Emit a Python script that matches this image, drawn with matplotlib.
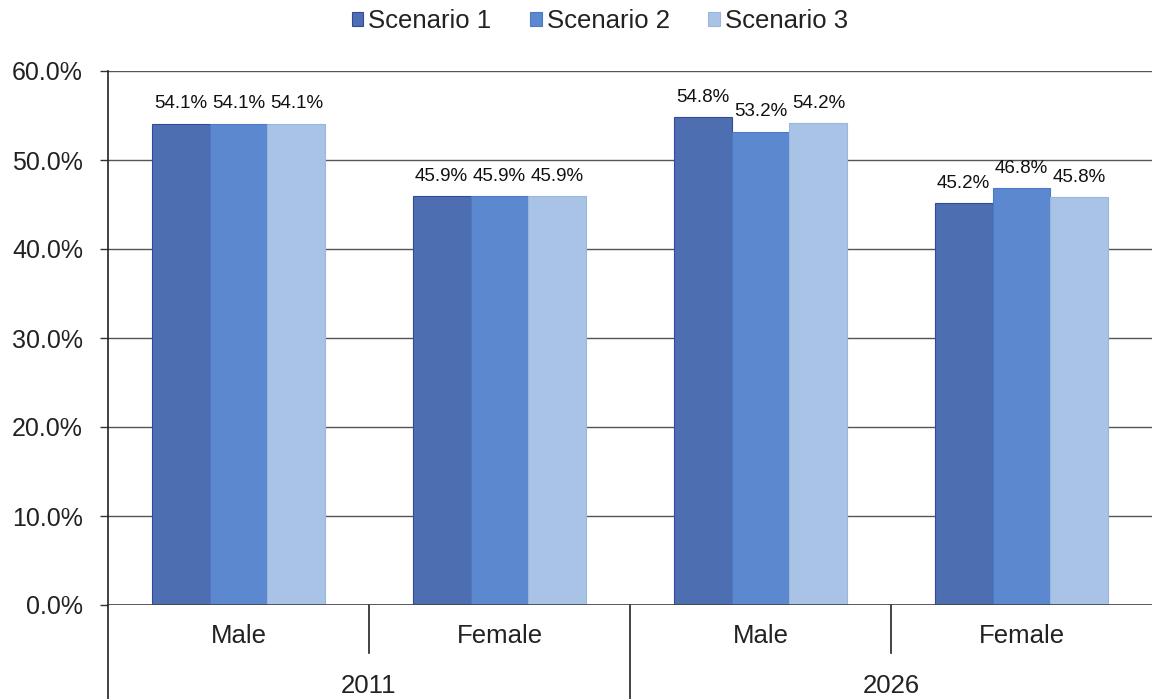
import matplotlib
matplotlib.use("Agg")
import matplotlib.pyplot as plt
import numpy as np

plt.rcParams['font.family'] = ['Liberation Sans', 'DejaVu Sans']

years = ["2011", "2026"]
sexes = ["Male", "Female"]
series_names = ["Scenario 1", "Scenario 2", "Scenario 3"]
scenario_1 = [54.1, 45.9, 54.8, 45.2]
scenario_2 = [54.1, 45.9, 53.2, 46.8]
scenario_3 = [54.1, 45.9, 54.2, 45.8]
colors = ["#4d6fb1", "#5b88cf", "#a9c3e6"]
edge_colors = ["#34489e", "#4c7ac4", "#9ab6de"]

fig = plt.figure(figsize=(11.52, 6.99), dpi=100)
ax = fig.add_axes([108 / 1152, 1 - 605 / 699, 1 - 108 / 1152, (605 - 71) / 699])

n_groups = len(years) * len(sexes)
x = np.arange(n_groups)
width = 0.222
all_series = [scenario_1, scenario_2, scenario_3]

for i, (vals, name) in enumerate(zip(all_series, series_names)):
    pos = x + (i - 1) * width
    bars = ax.bar(pos, vals, width, color=colors[i], edgecolor=edge_colors[i],
                  linewidth=0.8, label=name, zorder=3)
    for b, v in zip(bars, vals):
        ax.annotate(f"{v:.1f}%", (b.get_x() + b.get_width() / 2, v),
                    xytext=(0, 8), textcoords="offset points",
                    ha="center", va="bottom", fontsize=13.5, color="#111111")

ax.set_xlim(-0.5, n_groups - 0.5)
ax.set_ylim(0, 60)
ax.set_yticks(np.arange(0, 61, 10))
ax.set_yticklabels([f"{t:.1f}%" for t in range(0, 61, 10)], fontsize=18, color="#222222")
ax.tick_params(axis="y", length=6, width=1, color="#333333", pad=12)
ax.grid(axis="y", color="#555555", linewidth=1, zorder=0)
ax.set_xticks([])
for side in ["top", "right", "bottom"]:
    ax.spines[side].set_visible(False)
ax.spines["left"].set_color("#222222")
ax.spines["left"].set_linewidth(1.2)
ax.axhline(0, color="#444444", linewidth=1.2, zorder=4)

# Two-level category axis below the plot
trans = ax.get_xaxis_transform()
ax_h_px = 605 - 71
def ax_y(px_below):
    return -px_below / ax_h_px

for k in range(n_groups):
    ax.text(k, ax_y(31), sexes[k % 2], transform=trans, ha="center", va="center",
            fontsize=18.5, color="#222222")
for j, yr in enumerate(years):
    ax.text(j * 2 + 0.5, ax_y(81), yr, transform=trans, ha="center", va="center",
            fontsize=18.5, color="#222222")

line_kw = dict(transform=trans, color="#222222", linewidth=1.2, clip_on=False)
ax.plot([-0.5, -0.5], [0, ax_y(100)], **line_kw)
ax.plot([1.5, 1.5], [0, ax_y(100)], **line_kw)
ax.plot([0.5, 0.5], [0, ax_y(48)], **line_kw)
ax.plot([2.5, 2.5], [0, ax_y(48)], **line_kw)

handles, labels = ax.get_legend_handles_labels()
fig.legend(handles, labels, loc="center", bbox_to_anchor=(600 / 1152, 1 - 21 / 699),
           ncol=3, frameon=False, fontsize=18.5, handlelength=0.45, handleheight=0.45,
           handletextpad=0.2, columnspacing=1.5, labelcolor="#222222")

fig.savefig("out.png", dpi=100, facecolor="white")
